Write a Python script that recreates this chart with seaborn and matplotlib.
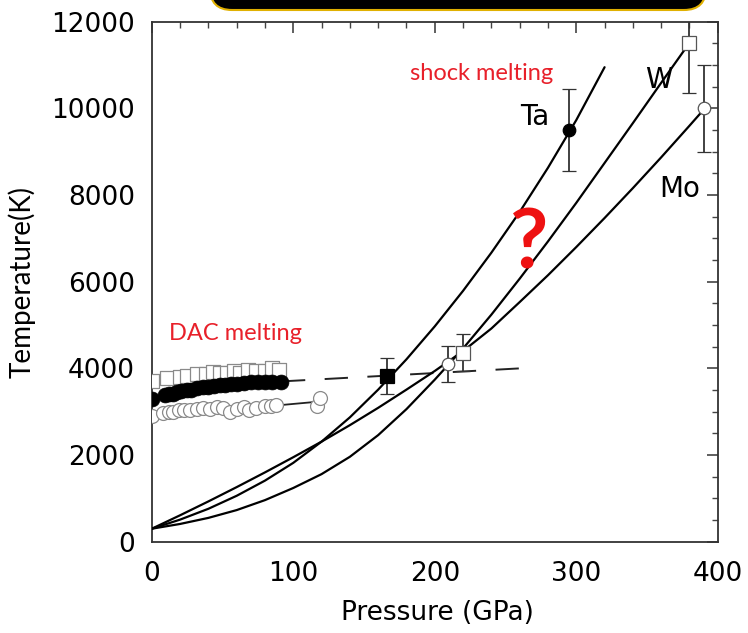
import numpy as np
import pandas as pd
import matplotlib
matplotlib.use("Agg")
import matplotlib.pyplot as plt
import seaborn as sns
from matplotlib.patches import FancyBboxPatch
from matplotlib.ticker import MultipleLocator

# ---------------- data ----------------
# Hugoniot temperature curves (pressure GPa, temperature K)
ta_p = [0, 20, 40, 60, 80, 100, 120, 140, 160, 180, 200, 220, 240, 260, 280, 300, 320]
ta_t = [300, 510, 760, 1060, 1410, 1820, 2310, 2870, 3510, 4210, 4970, 5790, 6670, 7610, 8630, 9730, 10950]

w_p = [0, 20, 40, 60, 80, 100, 120, 140, 160, 180, 200, 220, 240, 260, 280, 300, 320, 340, 360, 378]
w_t = [300, 410, 550, 730, 960, 1240, 1560, 1960, 2460, 3060, 3740, 4460, 5240, 6070, 6930, 7820, 8740, 9660, 10590, 11420]

mo_p = [0, 20, 40, 60, 80, 100, 120, 140, 160, 180, 200, 220, 240, 260, 280, 300, 320, 340, 360, 380, 390]
mo_t = [300, 610, 930, 1260, 1600, 1950, 2310, 2690, 3090, 3510, 3940, 4400, 4920, 5530, 6150, 6800, 7470, 8160, 8870, 9600, 9970]

# DAC melting data
dac_w_p = [0, 11, 20, 25, 32, 38, 43, 48, 53, 58, 62, 68, 74, 80, 85, 90]
dac_w_t = [3700, 3780, 3800, 3830, 3870, 3880, 3920, 3890, 3890, 3950, 3890, 3960, 3940, 3950, 4000, 3960]

dac_ta_p = [0, 9, 12, 15, 18, 21, 25, 28, 32, 36, 40, 44, 48, 52, 56, 60, 65, 70, 75, 80, 85, 91]
dac_ta_t = [3300, 3380, 3400, 3420, 3450, 3470, 3490, 3510, 3540, 3560, 3580, 3600, 3610, 3620,
            3640, 3650, 3660, 3680, 3680, 3690, 3690, 3690]

dac_mo_p = [0, 8, 12, 15, 19, 23, 27, 32, 36, 41, 46, 50, 55, 60, 65, 69, 74, 80, 84, 88, 117, 119]
dac_mo_t = [2900, 2960, 2990, 3000, 3030, 3040, 3050, 3060, 3080, 3070, 3110, 3090, 3000, 3060,
            3100, 3050, 3080, 3130, 3140, 3150, 3140, 3320]

mo_fit_p = [90, 117]
mo_fit_t = [3150, 3230]

dash_p = [92, 260]
dash_t = [3700, 4000]

# shock melting points
shock_p = [166, 209.5, 220, 295, 380, 390]
shock_t = [3820, 4100, 4360, 9500, 11500, 10000]
shock_err = [420, 410, 430, 950, 1150, 1000]

# ---------------- styling ----------------
sns.set_style("white")
plt.rcParams["font.family"] = ["DejaVu Sans"]
plt.rcParams["text.color"] = "black"
plt.rcParams["axes.labelcolor"] = "black"
plt.rcParams["xtick.labelcolor"] = "black"
plt.rcParams["ytick.labelcolor"] = "black"

fig = plt.figure(figsize=(7.48, 6.33), dpi=100)
ax = fig.add_axes([0.2029, 0.1442, 0.7567, 0.8215])

curves = pd.DataFrame({
    "P": ta_p + w_p + mo_p,
    "T": ta_t + w_t + mo_t,
    "metal": ["Ta"] * len(ta_p) + ["W"] * len(w_p) + ["Mo"] * len(mo_p),
})
sns.lineplot(data=curves, x="P", y="T", units="metal", estimator=None, sort=False,
             color="black", lw=1.6, ax=ax, zorder=3)

# DAC lines
sns.lineplot(x=dash_p, y=dash_t, color="#222222", lw=1.4, ax=ax, zorder=2,
             dashes=False).lines[-1].set_dashes([12, 10])
sns.lineplot(x=mo_fit_p, y=mo_fit_t, color="#222222", lw=1.3, ax=ax, zorder=2)

# DAC points
sns.scatterplot(x=dac_w_p, y=dac_w_t, marker="s", s=90, facecolor="white",
                edgecolor="#8a8a8a", linewidth=0.9, ax=ax, zorder=4)
sns.scatterplot(x=dac_mo_p, y=dac_mo_t, marker="o", s=100, facecolor="white",
                edgecolor="#8a8a8a", linewidth=0.9, ax=ax, zorder=4)
sns.scatterplot(x=dac_ta_p, y=dac_ta_t, marker="o", s=115, facecolor="black",
                edgecolor="black", linewidth=0.5, ax=ax, zorder=5)

# shock points with error bars
mk = ["s", "o", "s", "o", "s", "o"]
fc = ["black", "white", "white", "black", "white", "white"]
ms = [10, 9, 10, 9, 10, 9]
for i in range(len(shock_p)):
    ax.errorbar(shock_p[i], shock_t[i], yerr=shock_err[i], fmt=mk[i], mfc=fc[i],
                mec="#555555" if fc[i] == "white" else "black", mew=0.9, ms=ms[i],
                ecolor="#333333", elinewidth=1.3, capsize=5, capthick=1.3, zorder=6)

# ---------------- axes ----------------
ax.set_xlim(0, 400)
ax.set_ylim(0, 12000)
ax.xaxis.set_major_locator(MultipleLocator(100))
ax.xaxis.set_minor_locator(MultipleLocator(20))
ax.yaxis.set_major_locator(MultipleLocator(2000))
ax.yaxis.set_minor_locator(MultipleLocator(500))
ax.tick_params(which="both", direction="in", top=True, right=True, color="#444444")
ax.tick_params(which="major", length=8, width=1.2, labelsize=19, pad=12)
ax.tick_params(which="minor", length=4.5, width=1.0)
ax.tick_params(axis="x", which="major", pad=14)
for sp in ax.spines.values():
    sp.set_color("#333333")
    sp.set_linewidth(1.3)

ax.set_xlabel("Pressure (GPa)", fontsize=19, labelpad=10)
ax.set_ylabel("Temperature(K)", fontsize=20, family=["Lato", "DejaVu Sans"])
ax.yaxis.set_label_coords(-0.205, 0.5)
ax.xaxis.set_label_coords(0.504, -0.112)

# ---------------- annotations ----------------
red = "#e8202a"
ax.text(233, 10810, "shock melting", color=red, fontsize=17, family=["Lato"],
        ha="center", va="center")
ax.text(59.5, 4816, "DAC melting", color=red, fontsize=17, family=["Lato"],
        ha="center", va="center")
ax.text(270.8, 9801, "Ta", fontsize=20, ha="center", va="center")
ax.text(358.4, 10655, "W", fontsize=20, ha="center", va="center")
ax.text(373.3, 8142, "Mo", fontsize=20, ha="center", va="center")
ax.text(266.6, 6850, "?", color="#ee1111", fontsize=60, fontweight="bold",
        family=["Lato"], ha="center", va="center")

# black rounded banner at the top
box = FancyBboxPatch((210, 633 - 10), 496, 60, boxstyle="round,pad=0,rounding_size=22",
                     transform=None, facecolor="black", edgecolor="#e0b000", lw=1.5,
                     clip_on=False)
fig.patches.append(box)

fig.savefig("out.png", dpi=100)
